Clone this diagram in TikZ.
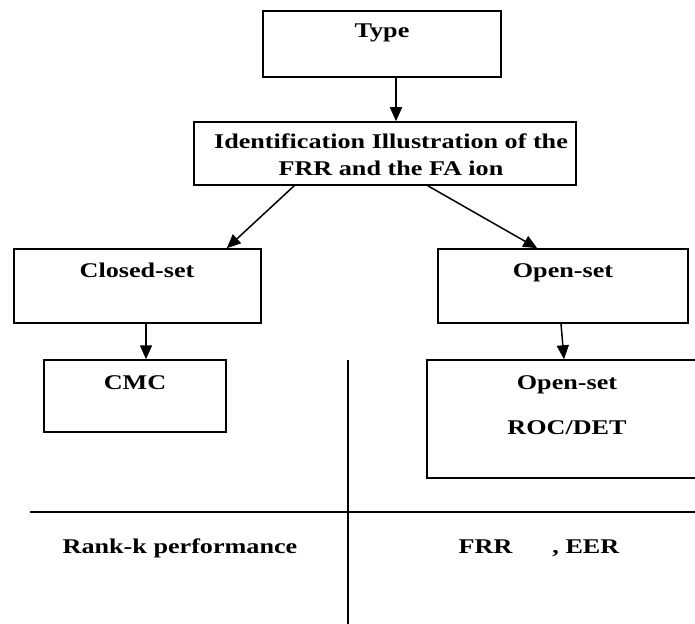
\documentclass[tikz,border=0pt]{standalone}
\usepackage{fontspec}
\setmainfont{Liberation Serif}[FakeStretch=1.25]
\usetikzlibrary{arrows.meta,calc}
\begin{document}
\begin{tikzpicture}[x=1bp,y=-1bp,
  box/.style={draw,line width=1.5bp,rectangle,inner sep=0pt},
  lbl/.style={anchor=base,inner sep=0pt,font=\fontsize{21}{27}\selectfont\bfseries},
  arr/.style={line width=1.5bp,-{Triangle[length=14bp,width=12bp]}},
  rule/.style={line width=1.5bp}]
\useasboundingbox (0,0) rectangle (695,624);
% boxes
\node[box,minimum width=238bp,minimum height=66bp] (type) at (382,44) {};
\node[box,minimum width=382bp,minimum height=63bp] (ident) at (385,153.5) {};
\node[box,minimum width=247bp,minimum height=74bp] (closed) at (137.5,286) {};
\node[box,minimum width=250bp,minimum height=74bp] (open) at (563,286) {};
\node[box,minimum width=182bp,minimum height=72bp] (cmc) at (135,396) {};
\node[box,minimum width=273bp,minimum height=118bp] (roc) at (563.5,419) {};
% texts
\node[lbl] (ttype) at (382,38) {Type};
\node[lbl] (tid1) at (391,149) {Identification Illustration of the};
\node[lbl] (tid2) at (391,176) {FRR and the FA ion};
\node[lbl] (tclosed) at (137,277) {Closed-set};
\node[lbl] (topen) at (563,277) {Open-set};
\node[lbl] (tcmc) at (135,389) {CMC};
\node[lbl] (topen2) at (567,389) {Open-set};
\node[lbl] (troc) at (567,434) {ROC/DET};
\node[lbl] (trank) at (180,553) {Rank-k performance};
\node[lbl] (tfrr) at (539,553) {FRR\hspace*{40bp}, EER};
% arrows
\draw[arr] ([xshift=14bp]type.south) -- ([xshift=14bp]type.south |- ident.north);
\draw[arr] ([xshift=101bp]ident.south west) -- ([xshift=-35bp]closed.north east);
\draw[arr] ([xshift=-149bp]ident.south east) -- ([xshift=100bp]open.north west);
\draw[arr] ([xshift=8.5bp]closed.south) -- ([xshift=8.5bp]closed.south |- cmc.north);
\draw[arr] ([xshift=-2bp]open.south) -- ([xshift=0.5bp]roc.north);
% table rules
\coordinate (hl) at (30,512);
\coordinate (hr) at (700,512);
\coordinate (vt) at (348,360);
\coordinate (vb) at (348,630);
\draw[rule] (hl) -- (hr);
\draw[rule] (vt) -- (vb);
\end{tikzpicture}
\end{document}
